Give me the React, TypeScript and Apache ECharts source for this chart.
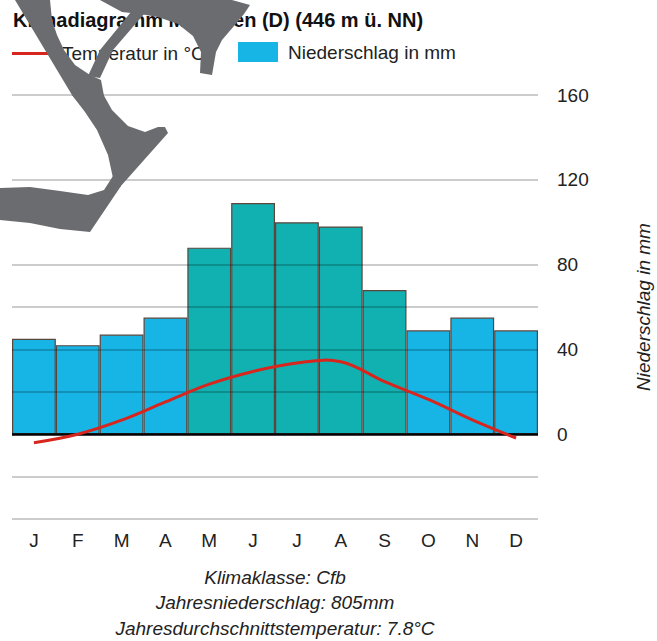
import React, { useEffect, useRef } from "react";
import * as echarts from "echarts";

// ---------- data ----------
const months = ["J", "F", "M", "A", "M", "J", "J", "A", "S", "O", "N", "D"];
const precipitation = [45, 42, 47, 55, 88, 109, 100, 98, 68, 49, 55, 49]; // mm
const temperature = [-2.0, 0.0, 3.3, 7.6, 11.8, 14.8, 16.8, 17.1, 12.4, 8.2, 3.4, -0.9]; // °C
const precipLabelTicks = [0, 40, 80, 120, 160];
const hiddenGridValues = [0, 100, 140];
const vegetationThreshold = 10; // °C
const chartTitle = "Klimadiagramm München (D) (446 m ü. NN)";
const tempName = "Temperatur in °C";
const precipName = "Niederschlag in mm";
const infoLines = [
  "Klimaklasse: Cfb",
  "Jahresniederschlag: 805mm",
  "Jahresdurchschnittstemperatur: 7.8°C",
];

// ---------- styles ----------
const FONT = '"Liberation Sans", Arial, sans-serif';
const BLUE = "#17b4e6";
const TEAL = "#12b1b1";
const RED = "#d7261e";
const GREY_OVERLAY = "#6b6c70";

// overlay shape (grey letter-like mark over the top-left corner)
const overlayShapes: number[][][] = [
  // upper thick stroke
  [
    [15, 0], [50, 0], [52, 20], [57, 35], [64, 50], [75, 65], [90, 75], [101, 80],
    [104, 96], [86, 112], [72, 95], [63, 80], [45, 50], [27, 20],
  ],
  // lower stroke with serif
  [
    [100, 80], [102, 92], [112, 110], [128, 126], [145, 132], [158, 127], [165, 127],
    [168, 133], [120, 187], [113, 178], [108, 155], [97, 130], [85, 112], [72, 95],
  ],
  // foot
  [
    [113, 176], [121, 186], [90, 232], [60, 229], [30, 223], [0, 220], [0, 188],
    [30, 187], [60, 191], [88, 195], [104, 190],
  ],
  // thin stroke
  [[131, 12], [144, 14], [113, 50], [100, 78], [88, 76], [100, 50]],
  // top band
  [
    [100, 0], [232, 0], [250, 5], [244, 14], [234, 26], [222, 40], [216, 52], [212, 75],
    [200, 73], [201, 52], [193, 36], [178, 24], [158, 17], [140, 14], [122, 12],
  ],
];

export default function App() {
  const ref = useRef<HTMLDivElement>(null);

  useEffect(() => {
    if (!ref.current) return;
    const chart = echarts.init(ref.current, undefined, { renderer: "svg" });

    const gridColors: string[] = [];
    for (let v = -40; v <= 160; v += 20) {
      gridColors.push(hiddenGridValues.includes(v) ? "rgba(0,0,0,0)" : "rgba(0,0,0,0.2)");
    }

    const option: any = {
      animation: false,
      textStyle: { fontFamily: FONT },
      title: {
        text: chartTitle,
        left: 13,
        top: 10,
        padding: 0,
        textStyle: { fontSize: 20, fontWeight: "bold", color: "#111", fontFamily: FONT },
      },
      legend: [
        {
          data: [{ name: tempName, icon: "rect", itemStyle: { color: RED, borderWidth: 0 } }],
          left: 12,
          top: 44,
          padding: 0,
          itemWidth: 36,
          itemHeight: 3,
          textStyle: { fontSize: 19, color: "#222", fontFamily: FONT, padding: [0, 0, 0, 9] },
        },
        {
          data: [{ name: precipName, icon: "rect", itemStyle: { color: BLUE, borderWidth: 0 } }],
          left: 238,
          top: 42,
          padding: 0,
          itemWidth: 40,
          itemHeight: 20,
          textStyle: { fontSize: 19, color: "#222", fontFamily: FONT, padding: [0, 0, 0, 5] },
        },
      ],
      grid: { left: 12, right: 119, top: 95, bottom: 122, outerBoundsMode: "none", containLabel: false },
      xAxis: {
        type: "category",
        data: months,
        axisLine: { show: false },
        axisTick: { show: false },
        axisLabel: { fontSize: 19, color: "#222", margin: 12, fontFamily: FONT },
      },
      yAxis: [
        {
          type: "value",
          position: "right",
          min: -40,
          max: 160,
          interval: 20,
          z: 3,
          axisLine: { show: false },
          axisTick: { show: false },
          axisLabel: {
            fontSize: 19,
            color: "#222",
            margin: 19,
            fontFamily: FONT,
            formatter: (v: number) => (precipLabelTicks.includes(v) ? String(v) : ""),
          },
          splitLine: { show: true, lineStyle: { color: gridColors, width: 2 } },
          name: precipName,
          nameLocation: "middle",
          nameRotate: 90,
          nameGap: 96,
          nameTextStyle: { fontStyle: "italic", fontSize: 19, color: "#222", fontFamily: FONT },
        },
        {
          type: "value",
          min: -20,
          max: 80,
          show: false,
        },
      ],
      series: [
        {
          name: precipName,
          type: "bar",
          data: precipitation,
          barCategoryGap: "0%",
          z: 2,
          itemStyle: {
            color: (p: any) => (temperature[p.dataIndex] > vegetationThreshold ? TEAL : BLUE),
            borderColor: "#5b463c",
            borderWidth: 1.2,
          },
          markLine: {
            silent: true,
            symbol: ["none", "none"],
            label: { show: false },
            lineStyle: { color: "#000", width: 2.5, type: "solid" },
            data: [{ yAxis: 0 }],
          },
        },
        {
          name: tempName,
          type: "custom",
          yAxisIndex: 1,
          data: temperature.map((t, i) => [i, t]),
          encode: { x: 0, y: 1 },
          z: 5,
          itemStyle: { color: RED },
          renderItem: (params: any, api: any) => {
            if (params.dataIndex !== 0) return null;
            const pts = temperature.map((t, i) => api.coord([i, t]));
            return {
              type: "polyline",
              silent: true,
              shape: { points: pts, smooth: 0.38 },
              style: { stroke: RED, lineWidth: 3, fill: "none" },
            };
          },
        },
      ],
      graphic: [
        ...infoLines.map((t, i) => ({
          type: "text",
          x: 275,
          y: 577 + i * 25.5,
          z: 10,
          style: {
            text: t,
            fill: "#222",
            fontSize: 19,
            fontStyle: "italic",
            fontFamily: FONT,
            align: "center",
            verticalAlign: "middle",
          },
        })),
        ...overlayShapes.map((pts) => ({
          type: "polygon",
          z: 100,
          shape: { points: pts },
          style: { fill: GREY_OVERLAY },
        })),
      ],
    };

    chart.setOption(option);
    return () => chart.dispose();
  }, []);

  return (
    <div
      ref={ref}
      style={{ position: "fixed", left: 0, top: 0, width: 657, height: 641, background: "#fff" }}
    />
  );
}
